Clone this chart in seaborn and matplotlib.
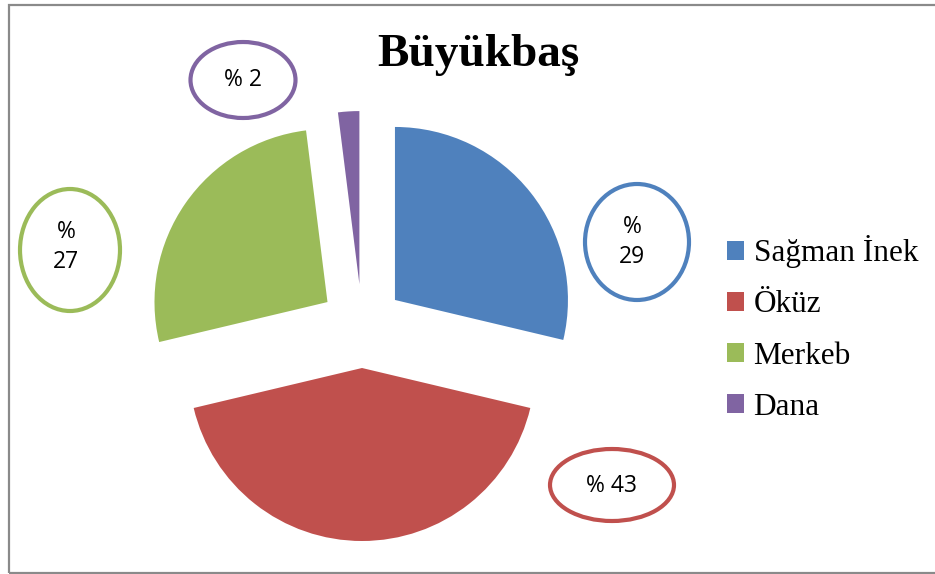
import matplotlib
matplotlib.use("Agg")
import matplotlib.pyplot as plt
from matplotlib.patches import Ellipse, Rectangle
import seaborn as sns

# ---- data ----
categories = ["Sağman İnek", "Öküz", "Merkeb", "Dana"]
values = [29, 43, 27, 2]
label_texts = ["%\n29", "% 43", "%\n27", "% 2"]
title = "Büyükbaş"

# ---- style ----
colors = sns.color_palette(["#4F81BD", "#C0504D", "#9BBB59", "#8064A2"])
explode = [42, 42, 42, 42]          # offsets in pixel-like data units
label_pos = [(632, 242), (612, 486), (66, 247), (243, 80)]   # layout (y from top)
ell_pos = [(637, 242), (612, 485), (70, 250), (243, 80)]
ell_size = [(104, 116), (124, 72), (100, 122), (105, 76)]

W, H = 935, 574
sns.set_theme(style="white")
plt.rcParams["font.family"] = ["Open Sans", "DejaVu Sans"]
plt.rcParams["text.color"] = "black"

fig = plt.figure(figsize=(W / 100, H / 100), dpi=100)
ax = fig.add_axes([0, 0, 1, 1])

center = (362, H - 326)
wedges, _ = ax.pie(values, colors=colors, explode=explode, startangle=90,
                   counterclock=False, radius=173, center=center, frame=True,
                   wedgeprops=dict(linewidth=0))
ax.set_xlim(0, W)
ax.set_ylim(0, H)
ax.set_aspect("equal")
ax.axis("off")

for (x, y), (ew, eh), c in zip(ell_pos, ell_size, colors):
    ax.add_patch(Ellipse((x, H - y), ew, eh, facecolor="white", edgecolor=c,
                         linewidth=3.0, zorder=3))
for (x, y), t in zip(label_pos, label_texts):
    ax.text(x, H - y, t, ha="center", va="center", multialignment="center",
            fontsize=16.5, color="black", linespacing=1.35, zorder=4,
            family=["Open Sans", "DejaVu Sans"])

ax.text(478, H - 55, title, ha="center", va="center", fontsize=34,
        fontweight="bold", color="black",
        family=["Liberation Serif", "DejaVu Serif"])

leg = fig.legend(wedges, categories, loc="center left",
                 bbox_to_anchor=(727 / W, 1 - 328.5 / H), frameon=False,
                 borderpad=0, borderaxespad=0, handlelength=0.55,
                 handleheight=0.55, handletextpad=0.3, labelspacing=0.71,
                 labelcolor="black",
                 prop=dict(family=["Liberation Serif", "DejaVu Serif"], size=22.5))

ax.add_patch(Rectangle((9, H - 572.5), 935, 567.5, fill=False,
                       edgecolor="#8a8a8a", linewidth=1.6, zorder=5,
                       clip_on=False))

fig.savefig("out.png", dpi=100)
